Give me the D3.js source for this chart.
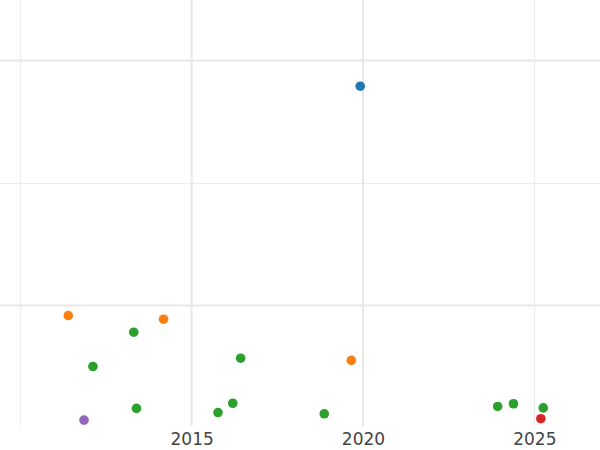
<!DOCTYPE html>
<html>
<head>
<meta charset="utf-8">
<script src="https://cdn.jsdelivr.net/npm/d3@7"></script>
<style>
  body { margin: 0; background: #fff; }
  svg { display: block; font-family: "DejaVu Sans", sans-serif; }
</style>
</head>
<body>
<div id="chart"></div>
<script>
// Data (year, value, group)
var years  = [2011.40, 2014.18, 2019.66, 2012.12, 2013.31, 2013.39, 2015.77, 2016.20, 2016.43, 2018.87, 2023.93, 2024.39, 2025.26, 2011.86, 2025.19, 2019.92];
var values = [95.9, 94.4, 77.6, 75.1, 89.1, 58.0, 56.3, 60.1, 78.5, 55.8, 58.8, 59.9, 58.2, 53.2, 53.8, 189.5];
var groups = ["B", "B", "B", "C", "C", "C", "C", "C", "C", "C", "C", "C", "C", "E", "D", "A"];

var groupNames  = ["A", "B", "C", "D", "E"];
var xTickLabels = [2015, 2020, 2025];
var xMajor = [2015, 2020];
var xMinor = [2010, 2025];
var yMajor = [100, 200];
var yMinor = [150];

var width = 600,
	height = 450,
	plotBottom = 426;

var svg = d3.select("#chart").append("svg")
	.attr("width", width)
	.attr("height", height);

// Scales
var x = d3.scaleLinear()
	.domain([2009.408, 2026.916])
	.range([0, width]);

var y = d3.scaleLinear()
	.domain([50, 225])
	.range([428, -0.75]);

var color = d3.scaleOrdinal()
	.domain(groupNames)
	.range(d3.schemeCategory10);

// Gridlines
var grid = svg.append("g").attr("class", "grid");

grid.selectAll("line.ymin")
	.data(yMinor)
	.enter().append("line")
		.attr("x1", 0).attr("x2", width)
		.attr("y1", function(d) { return Math.round(y(d)) + 0.5; })
		.attr("y2", function(d) { return Math.round(y(d)) + 0.5; })
		.attr("stroke", "#ececec")
		.attr("stroke-width", 1);

grid.selectAll("line.ymaj")
	.data(yMajor)
	.enter().append("line")
		.attr("x1", 0).attr("x2", width)
		.attr("y1", function(d) { return y(d); })
		.attr("y2", function(d) { return y(d); })
		.attr("stroke", "#e8e8e8")
		.attr("stroke-width", 2);

grid.selectAll("line.xmin")
	.data(xMinor)
	.enter().append("line")
		.attr("x1", function(d) { return Math.round(x(d)) + 0.5; })
		.attr("x2", function(d) { return Math.round(x(d)) + 0.5; })
		.attr("y1", 0).attr("y2", plotBottom)
		.attr("stroke", "#ececec")
		.attr("stroke-width", 1);

grid.selectAll("line.xmaj")
	.data(xMajor)
	.enter().append("line")
		.attr("x1", function(d) { return x(d); })
		.attr("x2", function(d) { return x(d); })
		.attr("y1", 0).attr("y2", plotBottom)
		.attr("stroke", "#e8e8e8")
		.attr("stroke-width", 2);

// X axis labels
var xAxis = d3.axisBottom(x)
	.tickValues(xTickLabels)
	.tickFormat(d3.format("d"))
	.tickSize(0)
	.tickPadding(7);

var gx = svg.append("g")
	.attr("transform", "translate(0," + plotBottom + ")")
	.call(xAxis);

gx.select(".domain").remove();
gx.selectAll("text")
	.attr("font-family", "DejaVu Sans, sans-serif")
	.attr("font-size", 17)
	.attr("fill", "#444");

// Points
svg.append("g")
	.attr("class", "points")
	.selectAll("circle")
	.data(d3.range(years.length))
	.enter().append("circle")
		.attr("cx", function(i) { return x(years[i]); })
		.attr("cy", function(i) { return y(values[i]); })
		.attr("r", 4.8)
		.attr("fill", function(i) { return color(groups[i]); });
</script>
</body>
</html>
